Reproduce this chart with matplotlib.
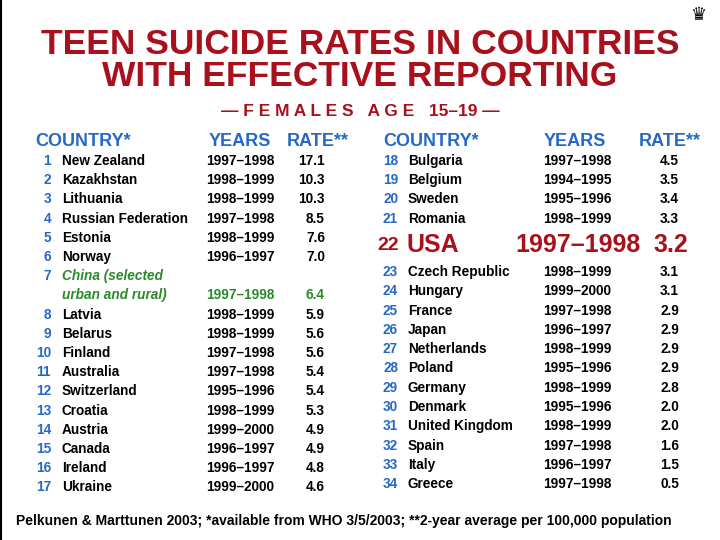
import matplotlib
matplotlib.use("Agg")
import matplotlib.pyplot as plt
from matplotlib import font_manager

# pick a narrow font for the big title if one exists
names = set(f.name for f in font_manager.fontManager.ttflist)
narrow = "Liberation Sans Narrow" if "Liberation Sans Narrow" in names else "Liberation Sans"
plt.rcParams['font.family'] = ['Liberation Sans', 'DejaVu Sans']

RED = "#A8101C"
BLUE = "#2468C8"
GREEN = "#2A8A2A"

# left half of the table
left_rank = [1, 2, 3, 4, 5, 6, 7, 8, 9, 10, 11, 12, 13, 14, 15, 16, 17]
left_country = ["New Zealand", "Kazakhstan", "Lithuania", "Russian Federation", "Estonia",
                "Norway", "China (selected\nurban and rural)", "Latvia", "Belarus", "Finland",
                "Australia", "Switzerland", "Croatia", "Austria", "Canada", "Ireland", "Ukraine"]
left_years = ["1997–1998", "1998–1999", "1998–1999", "1997–1998", "1998–1999", "1996–1997",
              "1997–1998", "1998–1999", "1998–1999", "1997–1998", "1997–1998", "1995–1996",
              "1998–1999", "1999–2000", "1996–1997", "1996–1997", "1999–2000"]
left_rate = [17.1, 10.3, 10.3, 8.5, 7.6, 7.0, 6.4, 5.9, 5.6, 5.6, 5.4, 5.4, 5.3, 4.9, 4.9, 4.8, 4.6]

# right half of the table
right_rank = [18, 19, 20, 21, 22, 23, 24, 25, 26, 27, 28, 29, 30, 31, 32, 33, 34]
right_country = ["Bulgaria", "Belgium", "Sweden", "Romania", "USA", "Czech Republic", "Hungary",
                 "France", "Japan", "Netherlands", "Poland", "Germany", "Denmark",
                 "United Kingdom", "Spain", "Italy", "Greece"]
right_years = ["1997–1998", "1994–1995", "1995–1996", "1998–1999", "1997–1998", "1998–1999",
               "1999–2000", "1997–1998", "1996–1997", "1998–1999", "1995–1996", "1998–1999",
               "1995–1996", "1998–1999", "1997–1998", "1996–1997", "1997–1998"]
right_rate = [4.5, 3.5, 3.4, 3.3, 3.2, 3.1, 3.1, 2.9, 2.9, 2.9, 2.9, 2.8, 2.0, 2.0, 1.6, 1.5, 0.5]

fig = plt.figure(figsize=(7.2, 5.4), dpi=100)
ax = fig.add_axes([0, 0, 1, 1])
ax.set_xlim(0, 720)
ax.set_ylim(540, 0)
ax.axis("off")

ax.plot([1, 1], [0, 540], color="black", lw=1.5)  # frame edge on the left

# title
ax.text(360, 44, "TEEN SUICIDE RATES IN COUNTRIES", family=narrow, fontsize=25.5,
        weight="bold", color=RED, ha="center", va="center")
ax.text(360, 77, "WITH EFFECTIVE REPORTING", family=narrow, fontsize=25.5,
        weight="bold", color=RED, ha="center", va="center")
ax.text(360, 112, "— F E M A L E S   A G E   15–19 —", fontsize=12.5,
        weight="bold", color=RED, ha="center", va="center")
ax.text(698, 15, "♛", family="DejaVu Sans", fontsize=13, color="black", ha="center", va="center")

# column headers
hdr = dict(fontsize=13, weight="bold", color=BLUE, va="center", family=narrow)
ax.text(35, 142, "COUNTRY*", ha="left", **hdr)
ax.text(209, 142, "YEARS", ha="left", **hdr)
ax.text(287, 142, "RATE**", ha="left", **hdr)
ax.text(383, 142, "COUNTRY*", ha="left", **hdr)
ax.text(544, 142, "YEARS", ha="left", **hdr)
ax.text(639, 142, "RATE**", ha="left", **hdr)

fs = 9.8
line = 19.2
# left table, china takes two lines
ln = 0
for r, c, yr, rt in zip(left_rank, left_country, left_years, left_rate):
    y = 161 + ln * line
    col = GREEN if "China" in c else "black"
    ax.text(51, y, str(r), fontsize=fs, weight="bold", color=BLUE, ha="right", va="center")
    if "\n" in c:
        first, second = c.split("\n")
        ax.text(62, y, first, fontsize=fs, weight="bold", style="italic", color=col, va="center")
        ln += 1
        y = 161 + ln * line
        ax.text(62, y, second, fontsize=fs, weight="bold", style="italic", color=col, va="center")
    else:
        ax.text(62, y, c, fontsize=fs, weight="bold", color=col, va="center")
    ax.text(206, y, yr, fontsize=fs, weight="bold", color=col, va="center")
    ax.text(325, y, f"{rt:.1f}", fontsize=fs, weight="bold", color=col, ha="right", va="center")
    ln += 1

# right table, usa row is big and red
for i, (r, c, yr, rt) in enumerate(zip(right_rank, right_country, right_years, right_rate)):
    if c == "USA":
        y = 245
        ax.text(399, y + 1, str(r), fontsize=14, weight="bold", color=RED, ha="right", va="center")
        ax.text(407, y, c, fontsize=18, weight="bold", color=RED, va="center")
        ax.text(578, y, yr, fontsize=18, weight="bold", color=RED, ha="center", va="center")
        ax.text(688, y, f"{rt:.1f}", fontsize=18, weight="bold", color=RED, ha="right", va="center")
        continue
    if i < 4:
        y = 161 + i * line
    else:
        y = 272 + (i - 5) * 19.3
    ax.text(398, y, str(r), fontsize=fs, weight="bold", color=BLUE, ha="right", va="center")
    ax.text(408, y, c, fontsize=fs, weight="bold", color="black", va="center")
    ax.text(543, y, yr, fontsize=fs, weight="bold", color="black", va="center")
    ax.text(679, y, f"{rt:.1f}", fontsize=fs, weight="bold", color="black", ha="right", va="center")

ax.text(16, 521, "Pelkunen & Marttunen 2003; *available from WHO 3/5/2003; **2-year average per 100,000 population",
        family=narrow, fontsize=10, weight="bold", color="black", va="center")

fig.savefig("out.png", dpi=100)
